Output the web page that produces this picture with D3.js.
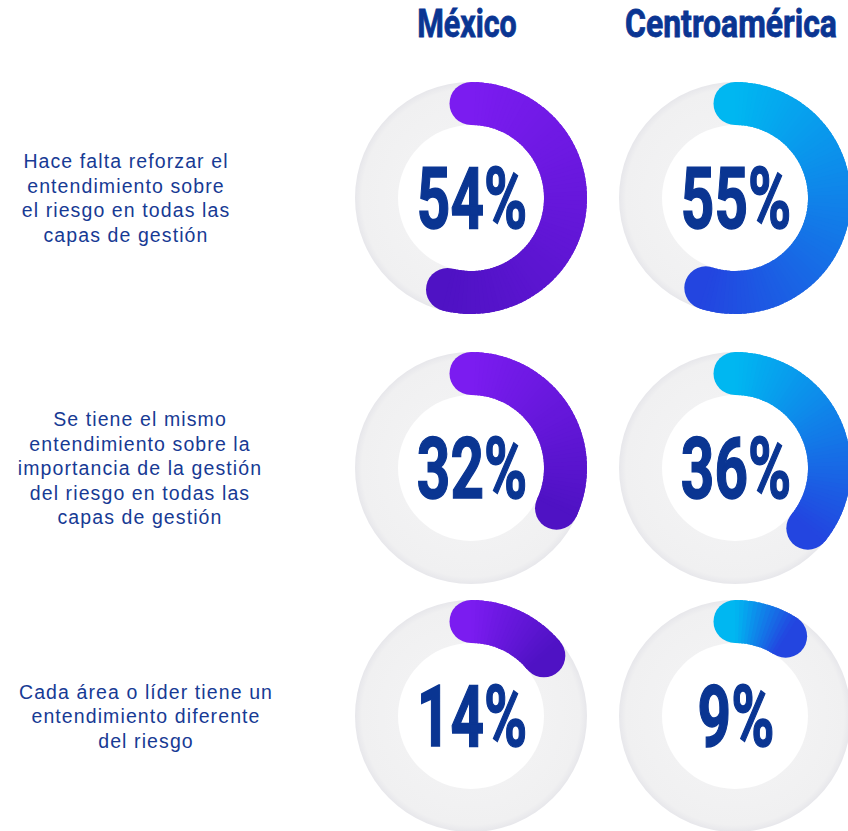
<!DOCTYPE html>
<html>
<head>
<meta charset="utf-8">
<script src="https://cdn.jsdelivr.net/npm/d3@7"></script>
<style>
  html, body { margin: 0; padding: 0; background: #ffffff; }
  svg { display: block; }
</style>
</head>
<body>
<div id="chart"></div>
<script>
// data
const regions = ['México', 'Centroamérica'];
const statements = [
    ['Hace falta reforzar el', 'entendimiento sobre', 'el riesgo en todas las', 'capas de gestión'],
    ['Se tiene el mismo', 'entendimiento sobre la', 'importancia de la gestión', 'del riesgo en todas las', 'capas de gestión'],
    ['Cada área o líder tiene un', 'entendimiento diferente', 'del riesgo']
];
const mexicoValues = [54, 32, 14];
const centroValues = [55, 36, 9];

const width = 848;
const height = 831;

const outerR = 116;
const innerR = 73;
const midR = (outerR + innerR) / 2;

const rowIds = d3.range(statements.length);

const xScale = d3.scaleOrdinal()
    .domain(regions)
    .range([471, 735]);

const yScale = d3.scaleOrdinal()
    .domain(rowIds)
    .range([198, 468, 716]);

// each label block is centred on its own
const labelX = d3.scaleOrdinal()
    .domain(rowIds)
    .range([126, 140, 146]);

const colors = {
    'México': ['#7b1cf0', '#4f12c4'],
    'Centroamérica': ['#00b7f1', '#2345e0']
};

const angle = d3.scaleLinear().domain([0, 100]).range([0, 2 * Math.PI]);

const svg = d3.select('#chart')
    .append('svg')
    .attr('width', width)
    .attr('height', height);

const defs = svg.append('defs');
const ringGrad = defs.append('radialGradient')
    .attr('id', 'ringGrad')
    .attr('cx', '50%').attr('cy', '50%').attr('r', '50%');
ringGrad.append('stop').attr('offset', '0.6').attr('stop-color', '#f2f2f3');
ringGrad.append('stop').attr('offset', '0.94').attr('stop-color', '#f0f0f1');
ringGrad.append('stop').attr('offset', '1').attr('stop-color', '#e7e7eb');

// headers
svg.selectAll('text.header')
    .data(regions)
    .join('text')
    .attr('class', 'header')
    .attr('transform', (d, i) => `translate(${xScale(d) - 4},37) scale(${i ? 0.84 : 0.8},1)`)
    .attr('text-anchor', 'middle')
    .style('font-family', 'Roboto, sans-serif')
    .style('font-weight', 700)
    .style('font-size', '38px')
    .attr('fill', '#0a3592')
    .attr('stroke', '#0a3592')
    .attr('stroke-width', 0.8)
    .text(d => d);

// statement labels
const lineH = 24.5;
const labels = svg.selectAll('text.label')
    .data(statements)
    .join('text')
    .attr('class', 'label')
    .attr('text-anchor', 'middle')
    .style('font-family', '"Liberation Sans", Arial, sans-serif')
    .style('font-size', '19.5px')
    .style('letter-spacing', '1.1px')
    .attr('fill', '#173a94');

labels.each(function (lines, i) {
    const y0 = yScale(i) - (lines.length - 1) * lineH / 2 + 7;
    d3.select(this).selectAll('tspan')
        .data(lines)
        .join('tspan')
        .attr('x', labelX(i))
        .attr('y', (d, j) => y0 + j * lineH)
        .text(d => d);
});

// donuts
const cells = [];
rowIds.forEach(i => {
    cells.push({ region: regions[0], row: i, value: mexicoValues[i] });
    cells.push({ region: regions[1], row: i, value: centroValues[i] });
});

const ringArc = d3.arc().innerRadius(innerR).outerRadius(outerR)
    .startAngle(0).endAngle(2 * Math.PI);
const segArc = d3.arc().innerRadius(innerR).outerRadius(outerR);

const donut = svg.selectAll('g.donut')
    .data(cells)
    .join('g')
    .attr('class', 'donut')
    .attr('transform', d => `translate(${xScale(d.region)},${yScale(d.row)})`);

donut.append('path')
    .attr('d', ringArc)
    .attr('fill', 'url(#ringGrad)');

donut.each(function (d) {
    const g = d3.select(this);
    const end = angle(d.value);
    const n = Math.ceil(d.value * 1.5);
    const col = d3.interpolateRgb(colors[d.region][0], colors[d.region][1]);
    const segs = d3.range(n).map(k => ({
        a0: end * k / n,
        a1: end * (k + 1) / n,
        t: (k + 0.5) / n
    }));
    // rounded start cap
    g.append('circle')
        .attr('cx', 0)
        .attr('cy', -midR)
        .attr('r', (outerR - innerR) / 2)
        .attr('fill', col(0));
    // rounded end cap
    g.append('circle')
        .attr('cx', midR * Math.sin(end))
        .attr('cy', -midR * Math.cos(end))
        .attr('r', (outerR - innerR) / 2)
        .attr('fill', col(1));
    g.selectAll('path.seg')
        .data(segs)
        .join('path')
        .attr('class', 'seg')
        .attr('d', s => segArc.startAngle(s.a0).endAngle(Math.min(s.a1 + 0.03, end))())
        .attr('fill', s => col(s.t));
});

donut.append('text')
    .attr('transform', 'translate(1,30) scale(0.68,1)')
    .attr('text-anchor', 'middle')
    .style('font-family', 'Roboto, sans-serif')
    .style('font-weight', 700)
    .style('font-size', '86px')
    .attr('fill', '#0a3592')
    .attr('stroke', '#0a3592')
    .attr('stroke-width', 1.5)
    .text(d => d.value + '%');
</script>
</body>
</html>
